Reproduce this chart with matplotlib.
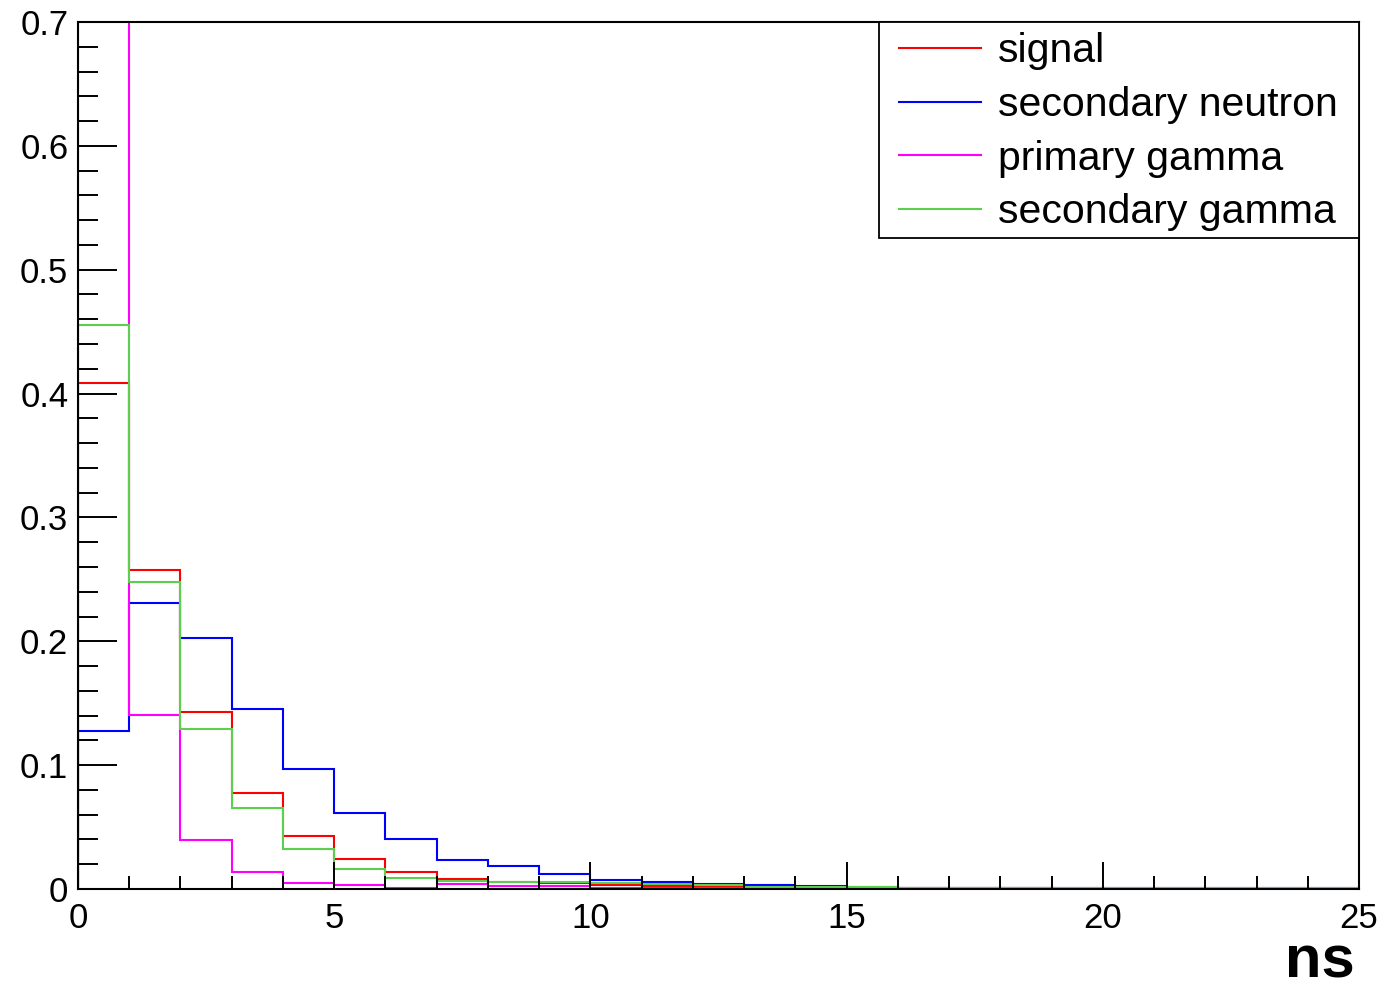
import numpy as np
import matplotlib
matplotlib.use("Agg")
import matplotlib.pyplot as plt
from matplotlib.ticker import MultipleLocator
from matplotlib.patches import Rectangle

plt.rcParams['font.family'] = ['Liberation Sans', 'DejaVu Sans']

edges = list(range(0, 26))  # 1 ns bins from 0 to 25

signal = [0.4085, 0.2576, 0.1430, 0.0778, 0.0430, 0.0242, 0.0134, 0.0080, 0.0056,
          0.0045, 0.0030, 0.0022, 0.0015, 0.0012, 0.0010, 0.0008, 0.0007, 0.0006,
          0.0005, 0.0004, 0.0004, 0.0003, 0.0003, 0.0002, 0.0002]
sec_neutron = [0.1276, 0.2312, 0.2026, 0.1453, 0.0969, 0.0614, 0.0400, 0.0234, 0.0186,
               0.0118, 0.0072, 0.0056, 0.0043, 0.0032, 0.0021, 0.0018, 0.0012, 0.0011,
               0.0010, 0.0009, 0.0008, 0.0008, 0.0007, 0.0007, 0.0006]
primary_gamma = [0.7800, 0.1405, 0.0396, 0.0140, 0.0051, 0.0035, 0.0010, 0.0037, 0.0024,
                 0.0028, 0.0012, 0.0008, 0.0007, 0.0006, 0.0005, 0.0004, 0.0004, 0.0003,
                 0.0003, 0.0003, 0.0002, 0.0002, 0.0002, 0.0002, 0.0001]
sec_gamma = [0.4550, 0.2479, 0.1290, 0.0656, 0.0323, 0.0161, 0.0090, 0.0067, 0.0060,
             0.0054, 0.0045, 0.0037, 0.0030, 0.0020, 0.0015, 0.0013, 0.0011, 0.0010,
             0.0009, 0.0008, 0.0008, 0.0007, 0.0006, 0.0006, 0.0005]

labels = ["signal", "secondary neutron", "primary gamma", "secondary gamma"]
colors = ["#ff0000", "#0000ff", "#ff00ff", "#5ccf4f"]
series = [signal, sec_neutron, primary_gamma, sec_gamma]

xticks = [0, 5, 10, 15, 20, 25]
xticklabels = ["0", "5", "10", "15", "20", "25"]
yticks = [0, 0.1, 0.2, 0.3, 0.4, 0.5, 0.6, 0.7]
yticklabels = ["0", "0.1", "0.2", "0.3", "0.4", "0.5", "0.6", "0.7"]

W, H = 1381, 989
fig = plt.figure(figsize=(W/100, H/100), dpi=100)
ax = fig.add_axes([78/W, 1-889/H, (1359-78)/W, (889-22)/H])

for vals, c, lab in zip(series, colors, labels):
    ax.stairs(vals, edges, color=c, lw=1.5, label=lab, baseline=0)

ax.set_xlim(0, 25)
ax.set_ylim(0, 0.7)

ax.set_xticks(xticks)
ax.set_xticklabels(xticklabels)
ax.set_yticks(yticks)
ax.set_yticklabels(yticklabels)
ax.xaxis.set_minor_locator(MultipleLocator(1))
ax.yaxis.set_minor_locator(MultipleLocator(0.02))

ax.tick_params(axis='both', which='both', direction='in', color='black', width=1.4,
               top=False, right=False, labelsize=25)
ax.tick_params(axis='y', which='major', length=28, pad=7)
ax.tick_params(axis='y', which='minor', length=14.4)
ax.tick_params(axis='x', which='major', length=19.5, pad=9)
ax.tick_params(axis='x', which='minor', length=9.4)

for s in ax.spines.values():
    s.set_linewidth(1.5)
    s.set_color('black')

fig.text(1355/W, 1-978/H, "ns", ha='right', va='baseline', fontsize=43, fontweight='bold')

# legend box
box = Rectangle((879/W, 1-238/H), 480/W, 216/H, transform=fig.transFigure,
                facecolor='white', edgecolor='black', lw=1.3, zorder=4, clip_on=False)
ax.add_patch(box)

ax_w = 1359-78
ax_h = 889-22
leg = ax.legend(loc='upper right', bbox_to_anchor=(1.0 - 3/ax_w, 1.0 + 8/ax_h), fontsize=29.5,
                frameon=False, borderaxespad=0, handlelength=2.0, handletextpad=0.4,
                labelspacing=0.38, borderpad=0.45)
leg.set_zorder(5)

fig.savefig("out.png", dpi=100)
